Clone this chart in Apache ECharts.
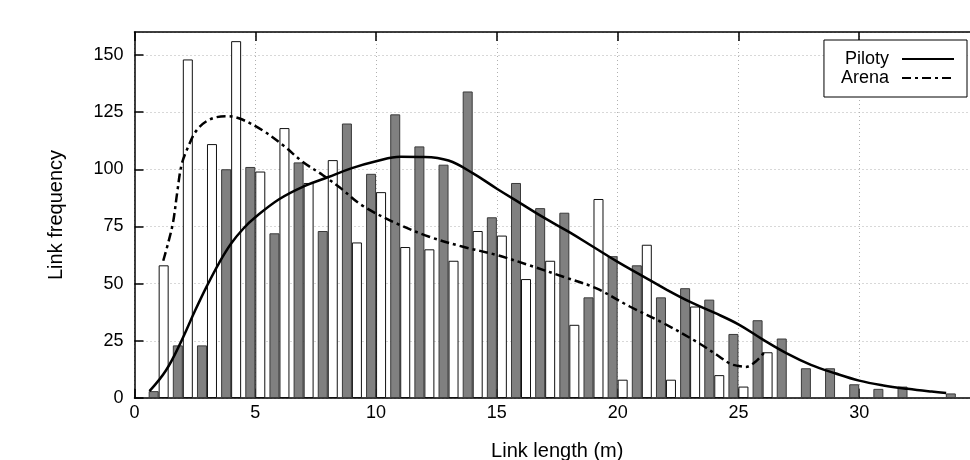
<!DOCTYPE html>
<html>
<head>
<meta charset="utf-8">
<script src="https://cdn.jsdelivr.net/npm/echarts@6/dist/echarts.min.js"></script>
<style>
html,body{margin:0;padding:0;background:#fff;}
#chart{width:970px;height:460px;}
</style>
</head>
<body>
<div id="chart"></div>
<script>
// Histogram bins (link length, m)
const bins = [1,2,3,4,5,6,7,8,9,10,11,12,13,14,15,16,17,18,19,20,21,22,23,24,25,26,27,28,29,30,31,32,33,34];
// Piloty histogram (grey bars)
const pilotyCounts = [3,23,23,100,101,72,103,73,120,98,124,110,102,134,79,94,83,81,44,62,58,44,48,43,28,34,26,13,13,6,4,5,0,2];
// Arena histogram (white bars)
const arenaCounts = [58,148,111,156,99,118,94,104,68,90,66,65,60,73,71,52,60,32,87,8,67,8,40,10,5,20,0,0,0,0,0,0,0,0];

// Smoothed density curves
const pilotyCurveX = [0.62,1.3,1.9,2.5,3.0,3.5,4.0,4.5,5,6,7,8,9,10,11,12,13,14,15,16,17,18,19,20,21,22,23,24,25,26,27,28,29,30,31,32,33,33.6];
const pilotyCurveY = [3,12,24,38,49,59,67.5,74,79,87,92.5,96.5,100.5,103.5,105.5,105.4,103.8,98.3,91.5,85,78.5,72.5,66,59.5,53.5,47.5,42,37.3,32.2,25.6,19.5,14.5,10.8,7.6,5.5,4,2.8,2.2];
const arenaCurveX = [1.19,1.4,1.6,1.77,1.95,2.23,2.57,3.1,3.8,4.35,5.3,6.15,6.97,7.8,8.5,9.45,10.85,12.2,13.6,15.0,16.35,17.75,19.1,20.5,21.9,23.25,24.1,24.65,25.0,25.3,25.72,26.07];
const arenaCurveY = [60,68,77,90,102,110,117,121.7,123.2,122.2,117,110.5,103.2,97.4,92,84,76.3,70.5,66.1,62.5,58,53,48,40,32.7,24.7,18.9,15,14,13.6,16,20];

const xTicks = [0,5,10,15,20,25,30,35];
const yTicks = [0,25,50,75,100,125,150];

const FONT = 'Liberation Sans';
const pair = (xs, ys) => xs.map((x, i) => [x, ys[i]]);
const barData = (vals) => bins.map((b, i) => [b, vals[i]]).filter(d => d[1] > 0);

const chart = echarts.init(document.getElementById('chart'), null, {renderer: 'canvas'});
chart.setOption({
  animation: false,
  backgroundColor: '#fff',
  grid: {left: 134.5, top: 32, right: -10, bottom: 62, containLabel: false, outerBoundsMode: 'none'},
  legend: {
    data: ['Piloty', 'Arena'],
    orient: 'vertical',
    align: 'right',
    right: 3,
    top: 40,
    padding: [10, 12, 10, 17],
    itemGap: 1,
    itemWidth: 52,
    itemHeight: 14,
    borderColor: '#000',
    borderWidth: 1,
    backgroundColor: '#fff',
    itemStyle: {opacity: 0},
    textStyle: {fontFamily: FONT, fontSize: 18, color: '#000', lineHeight: 18, padding: [0, 8, 0, 0]}
  },
  xAxis: [{
    type: 'value', min: xTicks[0], max: xTicks[xTicks.length - 1], interval: 5,
    name: 'Link length (m)', nameLocation: 'middle', nameGap: 43,
    nameTextStyle: {fontFamily: FONT, fontSize: 20, color: '#000'},
    axisLine: {show: true, lineStyle: {color: '#000', width: 1.5}},
    axisTick: {show: true, inside: true, length: 9, lineStyle: {color: '#000', width: 1.5}},
    axisLabel: {fontFamily: FONT, fontSize: 18, color: '#000', margin: 6, showMaxLabel: false},
    splitLine: {show: true, lineStyle: {color: '#b0b0b0', width: 1, type: [1, 3]}}
  }, {
    type: 'value', position: 'top', min: xTicks[0], max: xTicks[xTicks.length - 1], interval: 5,
    axisLine: {show: true, onZero: false, lineStyle: {color: '#000', width: 1.5}},
    axisTick: {show: true, inside: true, length: 9, lineStyle: {color: '#000', width: 1.5}},
    axisLabel: {show: false},
    splitLine: {show: false}
  }],
  yAxis: [{
    type: 'value', min: yTicks[0], max: 160, interval: 25,
    name: 'Link frequency', nameLocation: 'middle', nameGap: 68,
    nameTextStyle: {fontFamily: FONT, fontSize: 20, color: '#000'},
    axisLine: {show: true, lineStyle: {color: '#000', width: 1.5}},
    axisTick: {show: true, inside: true, length: 9, lineStyle: {color: '#000', width: 1.5}},
    axisLabel: {fontFamily: FONT, fontSize: 18, color: '#000', margin: 11, showMaxLabel: false},
    splitLine: {show: true, lineStyle: {color: '#b0b0b0', width: 1, type: [1, 3]}}
  }],
  series: [
    {
      name: 'Piloty hist', type: 'bar', barWidth: 10, barGap: '0%',
      data: barData(pilotyCounts),
      itemStyle: {color: '#808080', borderColor: '#3a3a3a', borderWidth: 1},
      z: 2
    },
    {
      name: 'Arena hist', type: 'bar', barWidth: 10, barGap: '0%',
      data: barData(arenaCounts),
      itemStyle: {color: '#ffffff', borderColor: '#111', borderWidth: 1},
      z: 2
    },
    {
      name: 'Piloty', type: 'line', smooth: 0.4, symbol: 'none',
      data: pair(pilotyCurveX, pilotyCurveY),
      lineStyle: {color: '#000', width: 2.5, type: 'solid'},
      itemStyle: {color: '#000'},
      z: 5
    },
    {
      name: 'Arena', type: 'line', smooth: 0.35, symbol: 'none',
      data: pair(arenaCurveX, arenaCurveY),
      lineStyle: {color: '#000', width: 2.5, type: [9, 4, 3, 4]},
      itemStyle: {color: '#000'},
      z: 5
    }
  ]
});
</script>
</body>
</html>
